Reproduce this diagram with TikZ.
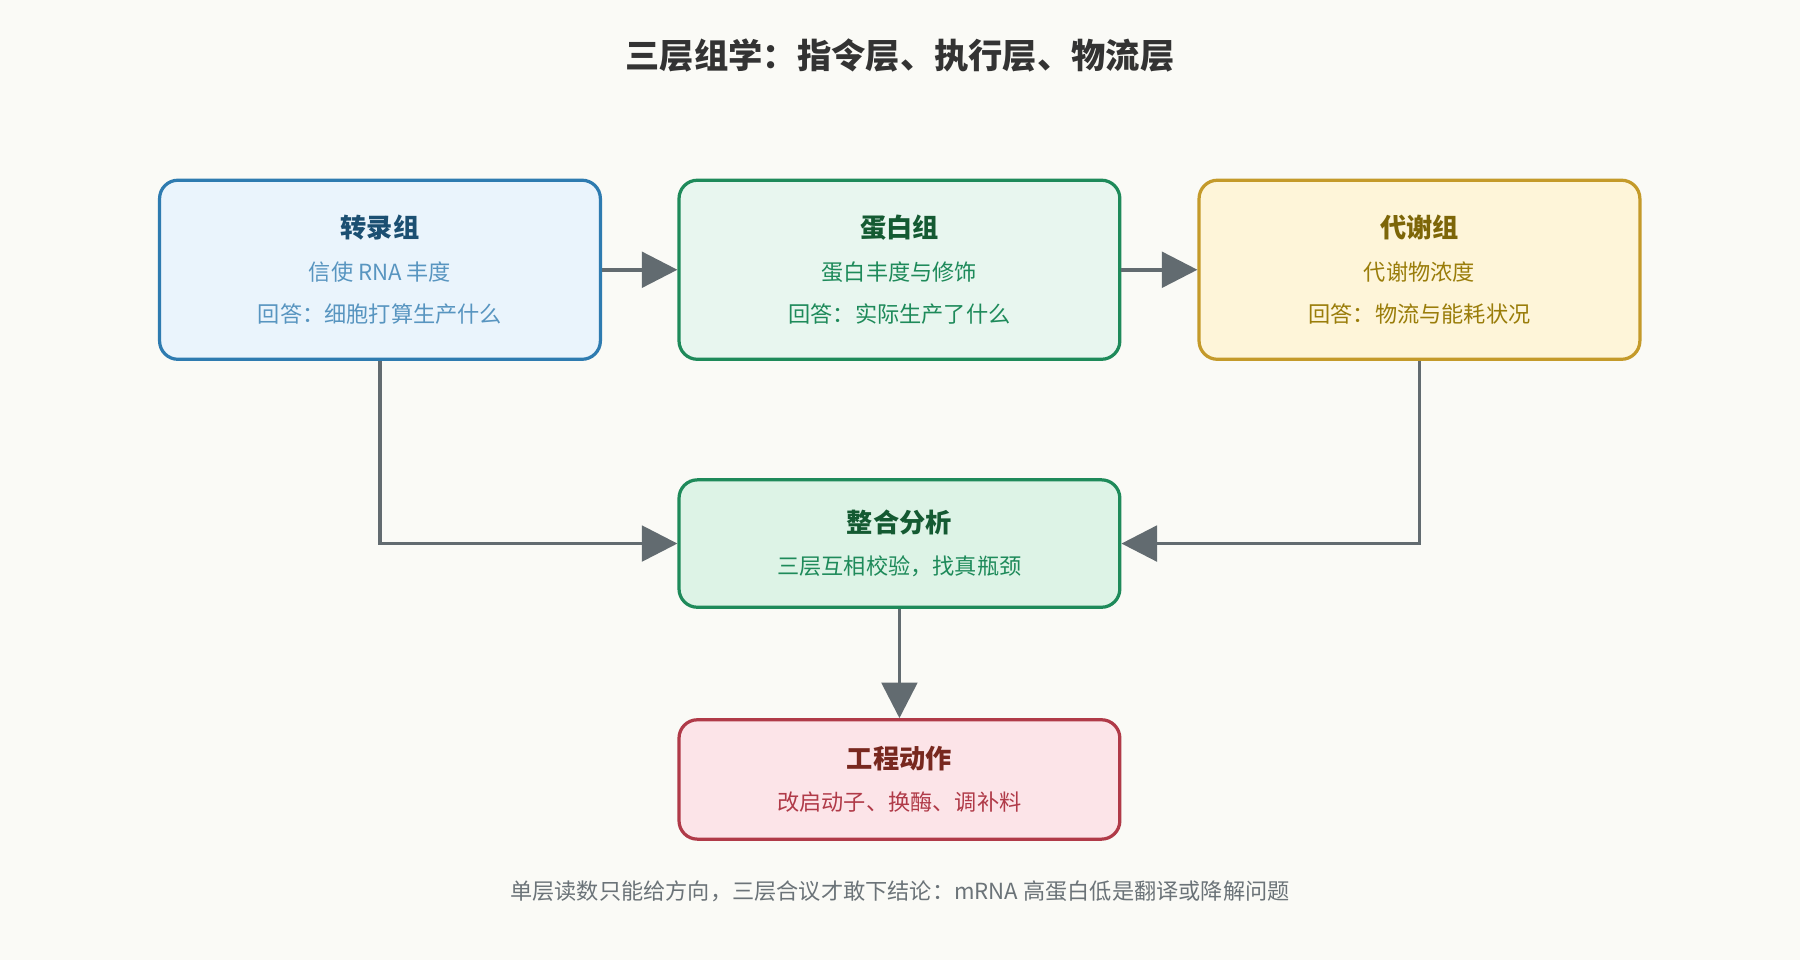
\documentclass[tikz,border=0pt]{standalone}
\usepackage{fontspec}
\setmainfont{Noto Sans CJK SC}
\usetikzlibrary{arrows.meta,positioning}
\definecolor{bgc}{HTML}{FAFAF6}
\definecolor{arr}{HTML}{626B70}
\definecolor{bluef}{HTML}{EAF4FC}\definecolor{blued}{HTML}{2E7BB0}\definecolor{bluet}{HTML}{1B4F72}
\definecolor{greenf}{HTML}{E8F6EF}\definecolor{greend}{HTML}{1E8A5A}\definecolor{greent}{HTML}{145A32}
\definecolor{greenf2}{HTML}{DDF3E6}
\definecolor{yelf}{HTML}{FEF5D9}\definecolor{yeld}{HTML}{C49A2A}\definecolor{yelt}{HTML}{7D6608}\definecolor{yelb}{HTML}{9A7D0A}
\definecolor{redf}{HTML}{FCE4E8}\definecolor{redd}{HTML}{B03A48}\definecolor{redt}{HTML}{78281F}
\definecolor{foot}{HTML}{6B7378}
\tikzset{
  box/.style={draw, rounded corners=0.32cm, line width=1.6pt, minimum width=7.68cm,
    align=center, font=\fontsize{11}{21}\selectfont},
  flow/.style={draw=arr, line width=1.8pt, -{Triangle[length=0.62cm,width=0.62cm]}}
}
\begin{document}
\begin{tikzpicture}
  \fill[bgc] (0,0) rectangle (31.36,16.72);
  \node[font=\fontsize{17}{20}\selectfont\bfseries, text=black!80] (title) at (15.68,15.76) {三层组学：指令层、执行层、物流层};

  \node[box, fill=bluef, draw=blued, text=blued!80!white, minimum height=3.12cm] (tra) at (6.62,12.02)
    {\textcolor{bluet}{\fontsize{13}{21}\selectfont\bfseries 转录组}\\信使 RNA 丰度\\回答：细胞打算生产什么};
  \node[box, fill=greenf, draw=greend, text=greend, minimum height=3.12cm] (pro) at (15.67,12.02)
    {\textcolor{greent}{\fontsize{13}{21}\selectfont\bfseries 蛋白组}\\蛋白丰度与修饰\\回答：实际生产了什么};
  \node[box, fill=yelf, draw=yeld, text=yelb, minimum height=3.12cm] (met) at (24.73,12.02)
    {\textcolor{yelt}{\fontsize{13}{21}\selectfont\bfseries 代谢组}\\代谢物浓度\\回答：物流与能耗状况};
  \node[box, fill=greenf2, draw=greend, text=greend, minimum height=2.22cm] (int) at (15.67,7.25)
    {\textcolor{greent}{\fontsize{13}{21}\selectfont\bfseries 整合分析}\\三层互相校验，找真瓶颈};
  \node[box, fill=redf, draw=redd, text=redd, minimum height=2.08cm] (eng) at (15.67,3.14)
    {\textcolor{redt}{\fontsize{13}{21}\selectfont\bfseries 工程动作}\\改启动子、换酶、调补料};

  \node[font=\fontsize{11}{13}\selectfont, text=foot] (note) at (15.68,1.2)
    {单层读数只能给方向，三层合议才敢下结论：mRNA 高蛋白低是翻译或降解问题};

  \draw[flow] (tra) -- (pro);
  \draw[flow] (pro) -- (met);
  \draw[flow] (tra.south) |- (int.west);
  \draw[flow] (met.south) |- (int.east);
  \draw[flow] (int) -- (eng);
\end{tikzpicture}
\end{document}
